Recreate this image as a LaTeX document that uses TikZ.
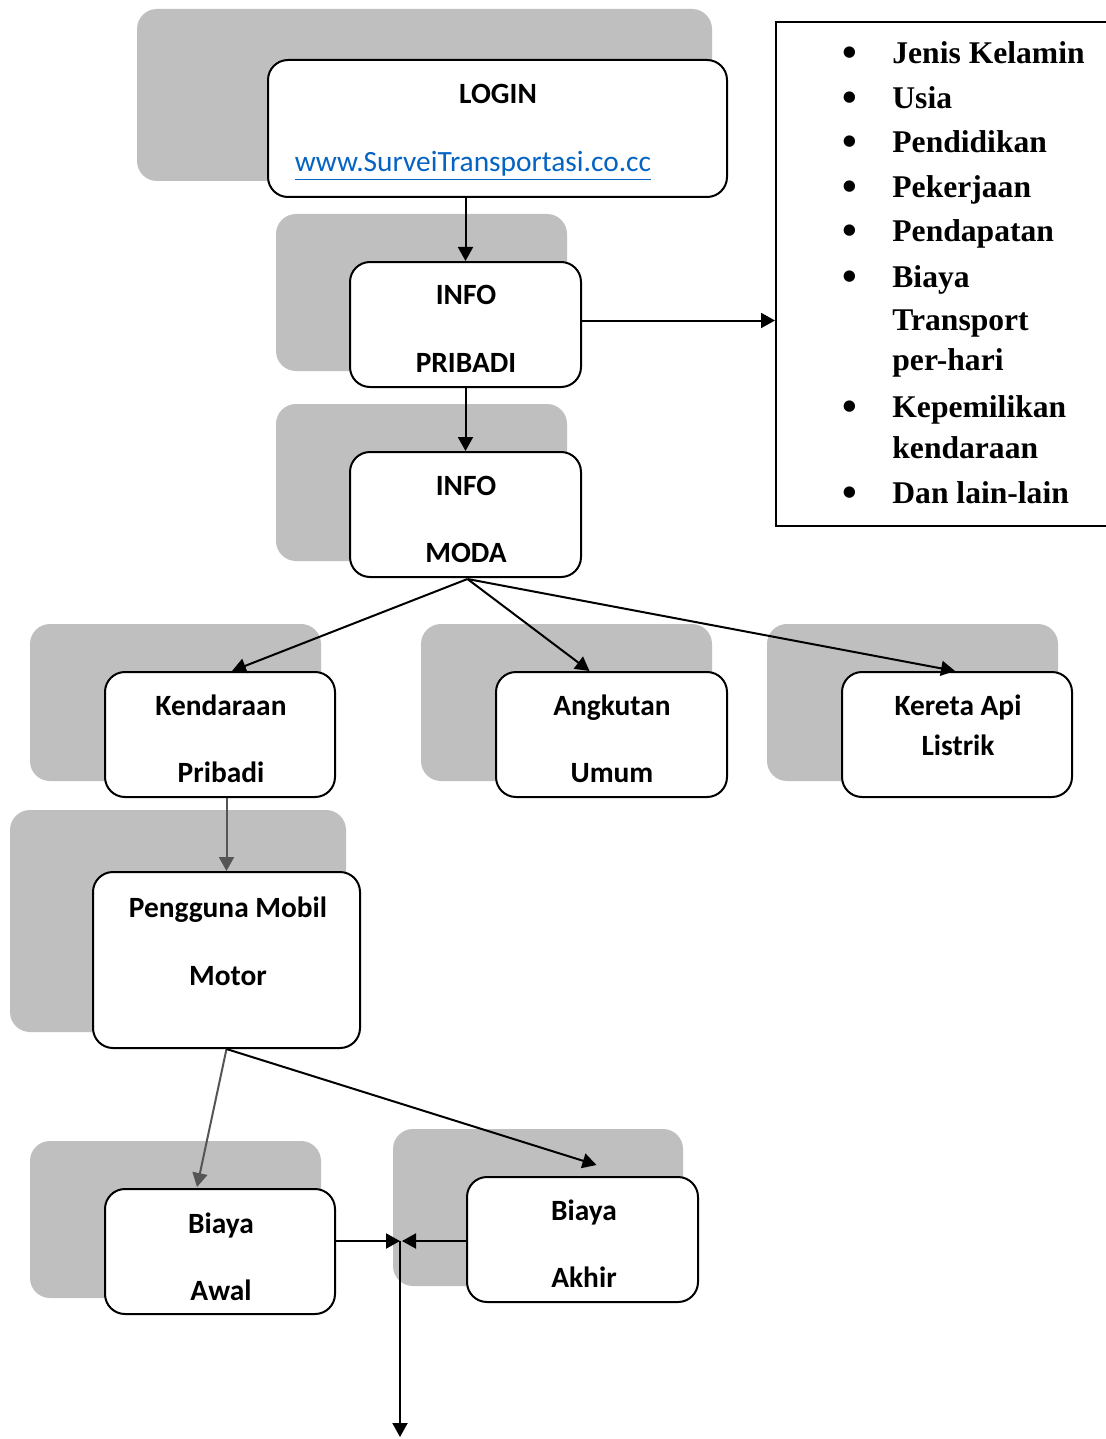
\documentclass[tikz,border=0pt]{standalone}
\usepackage{fontspec}
\setmainfont{Carlito}
\newfontfamily\listfont{Liberation Serif}
\usetikzlibrary{arrows.meta,calc}
\definecolor{shadefill}{HTML}{BFBFBF}
\definecolor{linkblue}{HTML}{0563C1}
\definecolor{softline}{HTML}{555555}

\begin{document}
\begin{tikzpicture}[x=0.5pt,y=-0.5pt,
  stepbox/.style={draw=black, line width=1pt, fill=white, rounded corners=10pt, inner sep=0pt},
  backbox/.style={fill=shadefill, rounded corners=10pt},
  lbl/.style={font=\bfseries\fontsize{14.7}{17.6}\selectfont, anchor=base, inner sep=0pt},
  itemtext/.style={font=\listfont\bfseries\fontsize{15.8}{19}\selectfont, anchor=base west, inner sep=0pt},
  itembullet/.style={font=\listfont\bfseries\fontsize{21}{24}\selectfont, anchor=base, inner sep=0pt},
  conn/.style={line width=1pt, -{Triangle[length=7pt,width=7.5pt]}},
  softconn/.style={conn, draw=softline, -{Triangle[length=7pt,width=7.5pt,fill=softline]}}
]
\useasboundingbox (0,0) rectangle (1106,1439);
\fill[white] (0,0) rectangle (1106,1439);

% offset grey panels behind the steps
\fill[backbox] (137,9) rectangle (712,181);
\fill[backbox] (276,214) rectangle (567,371);
\fill[backbox] (276,404) rectangle (567,561);
\fill[backbox] (30,624) rectangle (321,781);
\fill[backbox] (421,624) rectangle (712,781);
\fill[backbox] (767,624) rectangle (1058,781);
\fill[backbox] (10,810) rectangle (346,1032);
\fill[backbox] (30,1141) rectangle (321,1298);
\fill[backbox] (393,1129) rectangle (683,1286);

% steps
\node[stepbox, minimum width=229.5pt, minimum height=68.5pt] (login) at (497.5,128.5) {};
\node[stepbox, minimum width=115.5pt, minimum height=62.5pt] (pribadi) at (465.5,324.5) {};
\node[stepbox, minimum width=115.5pt, minimum height=62.5pt] (moda) at (465.5,514.5) {};
\node[stepbox, minimum width=115pt, minimum height=62.5pt] (kend) at (220,734.5) {};
\node[stepbox, minimum width=115.5pt, minimum height=62.5pt] (angk) at (611.5,734.5) {};
\node[stepbox, minimum width=115pt, minimum height=62.5pt] (kereta) at (957,734.5) {};
\node[stepbox, minimum width=133.5pt, minimum height=88pt] (peng) at (226.5,960) {};
\node[stepbox, minimum width=115pt, minimum height=62.5pt] (awal) at (220,1251.5) {};
\node[stepbox, minimum width=115.5pt, minimum height=62.5pt] (akhir) at (582.5,1239.5) {};

% step labels
\node[lbl] (tlogin) at (498,104) {LOGIN};
\node[lbl, font=\fontsize{14.7}{17.6}\selectfont, text=linkblue] (turl) at (473,172) {\underline{www.SurveiTransportasi.co.cc}};
\node[lbl] (tpri1) at (466,304) {INFO};
\node[lbl] (tpri2) at (466,372) {PRIBADI};
\node[lbl] (tmod1) at (466,495) {INFO};
\node[lbl] (tmod2) at (466,562) {MODA};
\node[lbl] (tken1) at (221,715) {Kendaraan};
\node[lbl] (tken2) at (221,782) {Pribadi};
\node[lbl] (tang1) at (612,715) {Angkutan};
\node[lbl] (tang2) at (612,782) {Umum};
\node[lbl] (tker1) at (958,715) {Kereta Api};
\node[lbl] (tker2) at (958,755) {Listrik};
\node[lbl] (tpen1) at (228,917) {Pengguna Mobil};
\node[lbl] (tpen2) at (228,985) {Motor};
\node[lbl] (tawa1) at (221,1233) {Biaya};
\node[lbl] (tawa2) at (221,1300) {Awal};
\node[lbl] (takh1) at (584,1220) {Biaya};
\node[lbl] (takh2) at (584,1287) {Akhir};

% personal data list
\node[draw=black, line width=1pt, minimum width=170pt, minimum height=252pt, anchor=north west, inner sep=0pt] (ciri) at (775,21) {};
\foreach \y/\t [count=\i] in {64/Jenis Kelamin, 109/Usia, 153/Pendidikan, 198/Pekerjaan, 242/Pendapatan, 287/Biaya, 330/Transport, 370/per-hari, 417/Kepemilikan, 458/kendaraan, 503/Dan lain-lain}
  \node[itemtext] (item\i) at (892,\y) {\t};
\foreach \y [count=\i] in {64,109,153,198,242,287,417,503}
  \node[itembullet] (dot\i) at (850,\y+3) {\textbullet};

% connectors
\draw[conn] (login.south -| pribadi.north) -- (pribadi.north);
\draw[conn] (pribadi.south) -- (moda.north);
\draw[conn] ($(pribadi.east)+(0,-4)$) -- ($(pribadi.east -| ciri.west)+(0,-4)$);
\coordinate (fan) at ($(moda.south)+(2,1)$);
\draw[conn] (fan) -- ($(kend.north)+(12,0)$);
\draw[conn] (fan) -- ($(angk.north)+(-22,0)$);
\draw[conn] (fan) -- ($(kereta.north)+(-2,0)$);
\draw[softconn] (kend.south -| peng.north) -- (peng.north);
\coordinate (pout) at (peng.south);
\draw[softconn] (pout) -- ($(awal.north)+(-23,-1)$);
\draw[conn] (pout) -- ($(akhir.north)+(14,-11)$);
\coordinate (jn) at (400,1241);
\coordinate (down) at (400,1437);
\draw[conn] (jn -| awal.east) -- (jn);
\draw[conn] (jn -| akhir.west) -- ($(jn)+(2,0)$);
\draw[conn] (jn) -- (down);
\end{tikzpicture}
\end{document}
